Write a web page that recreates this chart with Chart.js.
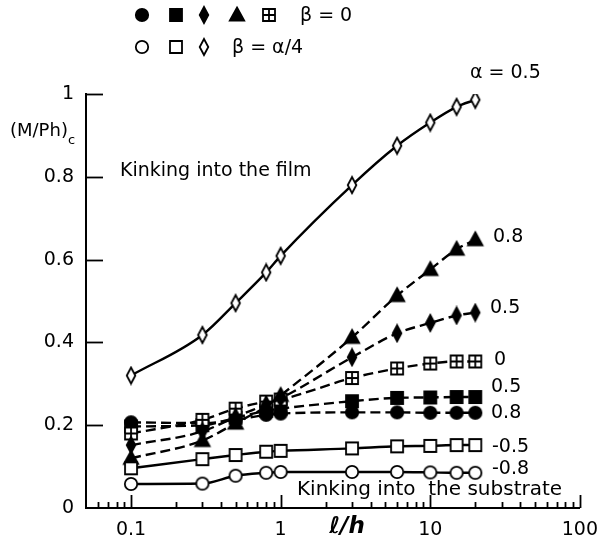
<!DOCTYPE html>
<html><head><meta charset="utf-8">
<script src="https://cdn.jsdelivr.net/npm/chart.js@4/dist/chart.umd.min.js"></script>
<style>html,body{margin:0;padding:0;background:#fff;}#wrap{width:601px;height:548px;}</style>
</head><body><div id="wrap"><canvas id="c" width="601" height="548"></canvas></div>
<script>
// ---- data ----
const lOverH = [0.1, 0.3, 0.5, 0.8, 1, 3, 6, 10, 15, 20];
const xTickValues = [0.1, 1, 10, 100];
const xTickLabels = ['0.1', '1', '10', '100'];
const yTickValues = [0, 0.2, 0.4, 0.6, 0.8, 1];
const yTickLabels = ['0', '0.2', '0.4', '0.6', '0.8', '1'];
// beta = alpha/4 (open markers, solid lines)
const openDiamondA05 = [0.32, 0.418, 0.495, 0.569, 0.609, 0.78, 0.875, 0.931, 0.969, 0.986];
const openSquareAm05 = [0.096, 0.118, 0.128, 0.136, 0.138, 0.144, 0.149, 0.150, 0.152, 0.152];
const openCircleAm08 = [0.058, 0.059, 0.078, 0.085, 0.087, 0.087, 0.087, 0.086, 0.085, 0.085];
// beta = 0 (filled markers, dashed lines)
const triangleA08 = [0.12, 0.163, 0.205, 0.245, 0.272, 0.412, 0.513, 0.576, 0.625, 0.648];
const diamondA05 = [0.152, 0.185, 0.22, 0.25, 0.265, 0.364, 0.422, 0.447, 0.465, 0.472];
const boxplusA0 = [0.18, 0.213, 0.24, 0.257, 0.262, 0.314, 0.337, 0.349, 0.354, 0.354];
const squareA05 = [0.197, 0.2, 0.218, 0.235, 0.24, 0.258, 0.266, 0.267, 0.268, 0.268];
const circleA08 = [0.207, 0.205, 0.213, 0.225, 0.228, 0.231, 0.231, 0.23, 0.23, 0.23];

// ---- markers ----
function marker(kind, filled) {
  const s = 20, c = document.createElement('canvas');
  c.width = s; c.height = s;
  const g = c.getContext('2d');
  g.lineWidth = 1.8; g.strokeStyle = '#000'; g.fillStyle = filled ? '#000' : '#fff';
  g.beginPath();
  if (kind === 'circle') g.arc(10, 10, 6.2, 0, Math.PI * 2);
  else if (kind === 'square') g.rect(4, 4, 12, 12);
  else if (kind === 'diamond') { g.moveTo(10, 2); g.lineTo(14.3, 10); g.lineTo(10, 18); g.lineTo(5.7, 10); g.closePath(); }
  else if (kind === 'triangle') { g.moveTo(10, 2.5); g.lineTo(17.2, 15.5); g.lineTo(2.8, 15.5); g.closePath(); }
  else if (kind === 'boxplus') { g.rect(4, 4, 12, 12); }
  g.fill(); g.stroke();
  if (kind === 'boxplus') { g.beginPath(); g.moveTo(10, 4); g.lineTo(10, 16); g.moveTo(4, 10); g.lineTo(16, 10); g.stroke(); }
  return c;
}
const M = {
  oCircle: marker('circle', false), oSquare: marker('square', false), oDiamond: marker('diamond', false),
  fCircle: marker('circle', true), fSquare: marker('square', true), fDiamond: marker('diamond', true),
  fTriangle: marker('triangle', true), boxplus: marker('boxplus', false)
};

function ds(values, style, dashed) {
  return {
    data: values.map((v, i) => ({ x: lOverH[i], y: v })),
    borderColor: '#000', borderWidth: 2.4, borderDash: dashed ? [10, 5] : [],
    pointStyle: style, pointRadius: 7, pointHoverRadius: 7,
    cubicInterpolationMode: 'monotone', fill: false
  };
}

const FONT = 'DejaVu Sans';
const deco = {
  id: 'deco',
  afterDraw(chart) {
    const ctx = chart.ctx, xs = chart.scales.x, ys = chart.scales.y;
    const bottom = chart.chartArea.bottom, left = chart.chartArea.left;
    ctx.save();
    ctx.strokeStyle = '#000'; ctx.lineWidth = 1.8;
    // x ticks (inward)
    for (let e = -2; e <= 1; e++) {
      for (let k = 1; k <= 9; k++) {
        const v = k * Math.pow(10, e);
        if (v < 0.055 || v > 100) continue;
        const px = Math.round(xs.getPixelForValue(v)) + 0.5;
        const len = k === 1 ? 13 : 6;
        ctx.beginPath(); ctx.moveTo(px, bottom); ctx.lineTo(px, bottom - len); ctx.stroke();
      }
    }
    const p100 = Math.round(xs.getPixelForValue(100)) + 0.5;
    ctx.beginPath(); ctx.moveTo(p100, bottom); ctx.lineTo(p100, bottom - 13); ctx.stroke();
    // y ticks (inward)
    yTickValues.forEach(v => {
      if (v === 0) return;
      const py = Math.round(ys.getPixelForValue(v)) + 0.5;
      ctx.beginPath(); ctx.moveTo(left, py); ctx.lineTo(left + 17, py); ctx.stroke();
    });
    // texts
    ctx.fillStyle = '#000'; ctx.textBaseline = 'middle'; ctx.textAlign = 'left';
    ctx.font = '19px "' + FONT + '"';
    ctx.fillText('α = 0.5', 470, 73);
    ctx.fillText('Kinking into the film', 120, 171);
    ctx.fillText('0.8', 493, 237);
    ctx.fillText('0.5', 490, 308);
    ctx.fillText('0', 494, 360);
    ctx.fillText('0.5', 491, 387);
    ctx.fillText('0.8', 491, 413);
    ctx.fillText('-0.5', 492, 447);
    ctx.fillText('-0.8', 492, 469);
    ctx.font = '20px "' + FONT + '"';
    ctx.fillText('Kinking into  the substrate', 297, 490);
    ctx.font = '18px "' + FONT + '"';
    ctx.fillText('(M/Ph)', 10, 131);
    ctx.font = '13px "' + FONT + '"';
    ctx.fillText('c', 68, 141);
    ctx.font = 'italic bold 23px "' + FONT + '"';
    ctx.textAlign = 'center';
    ctx.fillText('ℓ/h', 347, 527);
    // legend
    ctx.textAlign = 'left';
    ctx.font = '19px "' + FONT + '"';
    const row1 = [[M.fCircle, 142], [M.fSquare, 176], [M.fDiamond, 204], [M.fTriangle, 237], [M.boxplus, 269]];
    row1.forEach(([m, x]) => ctx.drawImage(m, x - 10, 15 - 10));
    ctx.fillText('β = 0', 300, 16);
    const row2 = [[M.oCircle, 142], [M.oSquare, 176], [M.oDiamond, 204]];
    row2.forEach(([m, x]) => ctx.drawImage(m, x - 10, 47 - 10));
    ctx.fillText('β = α/4', 232, 48);
    ctx.restore();
  }
};

new Chart(document.getElementById('c'), {
  type: 'line',
  data: {
    datasets: [
      ds(openDiamondA05, M.oDiamond, false),
      ds(openSquareAm05, M.oSquare, false),
      ds(openCircleAm08, M.oCircle, false),
      ds(triangleA08, M.fTriangle, true),
      ds(diamondA05, M.fDiamond, true),
      ds(boxplusA0, M.boxplus, true),
      ds(squareA05, M.fSquare, true),
      ds(circleA08, M.fCircle, true)
    ]
  },
  options: {
    responsive: false, animation: false, devicePixelRatio: 1,
    layout: { padding: { top: 94, right: 16, left: 0, bottom: 0 } },
    plugins: { legend: { display: false }, tooltip: { enabled: false } },
    scales: {
      x: {
        type: 'logarithmic', min: 0.05, max: 100, position: 'bottom',
        afterBuildTicks: s => { s.ticks = xTickValues.map(v => ({ value: v })); },
        afterFit: s => { s.height = 40; },
        ticks: {
          autoSkip: false, maxRotation: 0, padding: 3, color: '#000',
          font: { family: FONT, size: 19 },
          callback: v => { const i = xTickValues.indexOf(v); return i >= 0 ? xTickLabels[i] : ''; }
        },
        grid: { display: false },
        border: { display: true, color: '#000', width: 2 }
      },
      y: {
        type: 'linear', min: 0, max: 1,
        afterBuildTicks: s => { s.ticks = yTickValues.map(v => ({ value: v })); },
        afterFit: s => { s.width = 86; },
        ticks: {
          padding: 4, color: '#000', font: { family: FONT, size: 19 },
          callback: v => { const i = yTickValues.indexOf(v); return i >= 0 ? yTickLabels[i] : ''; }
        },
        grid: { display: false },
        border: { display: true, color: '#000', width: 2 }
      }
    }
  },
  plugins: [deco]
});
</script></body></html>
